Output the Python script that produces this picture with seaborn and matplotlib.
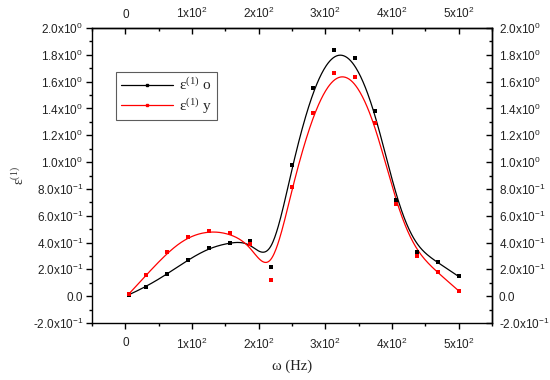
import numpy as np
import pandas as pd
import matplotlib
matplotlib.use("Agg")
import matplotlib.pyplot as plt
import seaborn as sns
from matplotlib.ticker import FixedLocator, MultipleLocator, FuncFormatter
from matplotlib.lines import Line2D

# ---- data ----
omega = [5, 31.25, 62.5, 93.75, 125, 156.25, 187.5, 218.75, 250, 281.25,
         312.5, 343.75, 375, 406.25, 437.5, 468.75, 500]
eps_o = [0.01, 0.07, 0.164, 0.27, 0.358, 0.40, 0.41, 0.22, 0.975, 1.554,
         1.838, 1.774, 1.38, 0.72, 0.33, 0.254, 0.147]
eps_y = [0.015, 0.157, 0.326, 0.443, 0.487, 0.47, 0.386, 0.117, 0.813, 1.363,
         1.662, 1.634, 1.289, 0.684, 0.30, 0.177, 0.04]
series_names = ["ε$^{(1)}$ o", "ε$^{(1)}$ y"]
series_colors = ["#000000", "#ff0000"]
x_ticks = [0, 100, 200, 300, 400, 500]
y_ticks = [-0.2, 0.0, 0.2, 0.4, 0.6, 0.8, 1.0, 1.2, 1.4, 1.6, 1.8, 2.0]


def bspline(cx, cy, n=500, k=3):
    """Clamped uniform B-spline using the data points as control points."""
    cx = np.asarray(cx, float)
    cy = np.asarray(cy, float)
    m = len(cx)
    knots = np.concatenate([np.zeros(k), np.linspace(0, 1, m - k + 1), np.ones(k)])
    u = np.linspace(0, 1, n)
    u[-1] -= 1e-12
    B = np.zeros((n, len(knots) - 1))
    for i in range(len(knots) - 1):
        B[:, i] = (u >= knots[i]) & (u < knots[i + 1])
    for d in range(1, k + 1):
        Bn = np.zeros((n, len(knots) - 1 - d))
        for i in range(len(knots) - 1 - d):
            a = knots[i + d] - knots[i]
            b = knots[i + d + 1] - knots[i + 1]
            t1 = (u - knots[i]) / a * B[:, i] if a > 0 else 0
            t2 = (knots[i + d + 1] - u) / b * B[:, i + 1] if b > 0 else 0
            Bn[:, i] = t1 + t2
        B = Bn
    return B @ cx, B @ cy


sns.set_theme(style="white")
plt.rcParams["font.family"] = ["Liberation Sans", "DejaVu Sans"]
plt.rcParams["mathtext.default"] = "regular"

fig = plt.figure(figsize=(5.5, 3.8), dpi=100)
ax = fig.add_axes([92 / 550, 1 - 323 / 380, 400 / 550, 295 / 380])

pts = pd.DataFrame({
    "omega": omega * 2,
    "eps": eps_o + eps_y,
    "series": [series_names[0]] * len(omega) + [series_names[1]] * len(omega),
})

for name, ys, col in zip(series_names, [eps_o, eps_y], series_colors):
    sx, sy = bspline(omega, ys)
    curve = pd.DataFrame({"omega": sx, "eps": sy})
    sns.lineplot(data=curve, x="omega", y="eps", sort=False, color=col,
                 linewidth=0.9, ax=ax, legend=False)
    sub = pts[pts["series"] == name]
    sns.scatterplot(data=sub, x="omega", y="eps", color=col, marker="s",
                    s=5, linewidth=0, ax=ax, legend=False, zorder=3)

ax.set_xlim(-50, 550)
ax.set_ylim(-0.2, 2.0)


def yfmt(v, pos=None):
    if abs(v) < 1e-9:
        return "0.0"
    e = int(np.floor(np.log10(abs(v)) + 1e-9))
    m = v / 10 ** e
    return f"{m:.1f}x10$^{{{e}}}$"


def xfmt(v, pos=None):
    if abs(v) < 1e-9:
        return "0"
    e = int(np.floor(np.log10(abs(v)) + 1e-9))
    m = v / 10 ** e
    return f"{m:.0f}x10$^{{{e}}}$"


LS = 8.5
ax.xaxis.set_major_locator(FixedLocator(x_ticks))
ax.xaxis.set_minor_locator(MultipleLocator(50))
ax.yaxis.set_major_locator(FixedLocator(y_ticks))
ax.yaxis.set_minor_locator(MultipleLocator(0.1))
ax.xaxis.set_major_formatter(FuncFormatter(xfmt))
ax.yaxis.set_major_formatter(FuncFormatter(yfmt))
ax.tick_params(which="both", direction="out", color="black", width=1,
               labelsize=LS, labelcolor="#222222", bottom=True, left=True)
ax.tick_params(axis="y", which="major", length=4.5, pad=2)
ax.tick_params(axis="x", which="major", length=4, pad=6)
ax.tick_params(which="minor", length=2.5)

for s in ax.spines.values():
    s.set_color("black")
    s.set_linewidth(1.0)

secx = ax.secondary_xaxis("top")
secx.xaxis.set_major_locator(FixedLocator(x_ticks))
secx.xaxis.set_minor_locator(MultipleLocator(50))
secx.xaxis.set_major_formatter(FuncFormatter(xfmt))
secx.tick_params(which="both", direction="in", color="black", width=1,
                 labelsize=LS, labelcolor="#222222", top=True)
secx.tick_params(which="major", length=4, pad=5)
secx.tick_params(which="minor", length=2.5)

secy = ax.secondary_yaxis("right")
secy.yaxis.set_major_locator(FixedLocator(y_ticks))
secy.yaxis.set_minor_locator(MultipleLocator(0.1))
secy.yaxis.set_major_formatter(FuncFormatter(yfmt))
secy.tick_params(which="both", direction="in", color="black", width=1,
                 labelsize=LS, labelcolor="#222222", right=True)
secy.tick_params(which="major", length=4, pad=5)
secy.tick_params(which="minor", length=2.5)
for s in list(secx.spines.values()) + list(secy.spines.values()):
    s.set_color("black")
    s.set_linewidth(1.0)

ax.set_xlabel("ω (Hz)", family=["Liberation Serif", "DejaVu Serif"],
              fontsize=10.5, color="#222222", labelpad=5)
ax.set_ylabel("ε$^{(1)}$", family=["Liberation Serif", "DejaVu Serif"],
              fontsize=10, color="#333333", labelpad=4)

handles = [Line2D([0], [0], color=c, lw=0.9, marker="s", markersize=1.8)
           for c in series_colors]
leg = ax.legend(handles, series_names, loc="upper left",
                bbox_to_anchor=((116 - 92) / 400, (323 - 72) / 295),
                prop={"family": ["Liberation Serif", "DejaVu Serif"], "size": 11},
                frameon=True, fancybox=False, edgecolor="#333333",
                handlelength=3.4, handletextpad=0.45, borderpad=0.3,
                labelspacing=0.2, numpoints=1, borderaxespad=0)
leg.get_frame().set_linewidth(0.8)

fig.savefig("out.png", dpi=100, facecolor="white")
